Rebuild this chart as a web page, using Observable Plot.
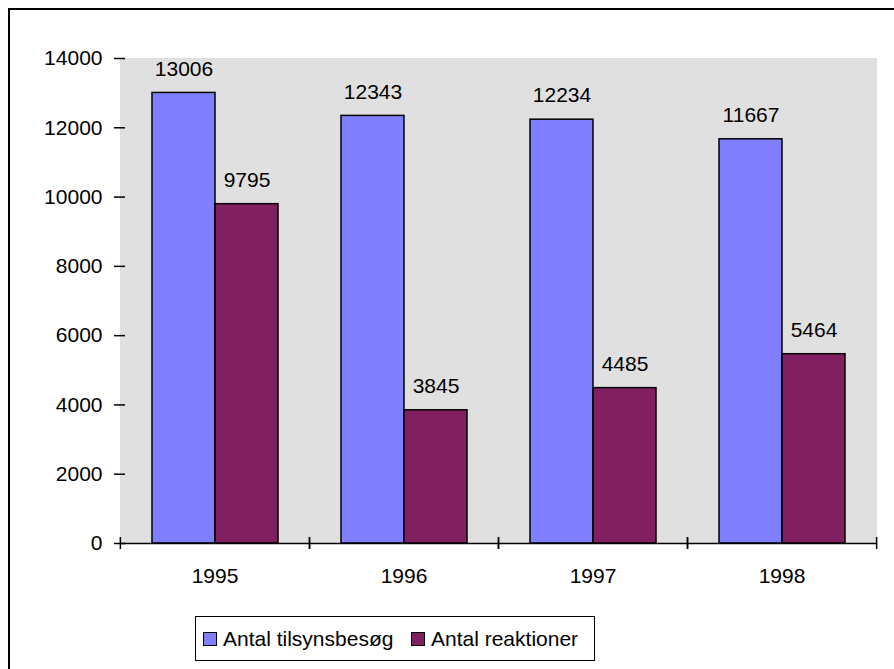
<!DOCTYPE html>
<html>
<head>
<meta charset="utf-8">
<script src="https://cdn.jsdelivr.net/npm/d3@7"></script>
<script src="https://cdn.jsdelivr.net/npm/@observablehq/plot@0.6"></script>
<style>
  html, body { margin: 0; padding: 0; background: #fff; overflow: hidden; width: 894px; height: 669px; }
  body { position: relative; font-family: "Liberation Sans", Arial, sans-serif; }
  #border { position: absolute; left: 8px; top: 8px; width: 1000px; height: 1000px; border: 2px solid #000; }
  #chart { position: absolute; left: 0; top: 0; }
  #legend { position: absolute; left: 195px; top: 616px; width: 398px; height: 43px; border: 1.5px solid #000; font-size: 21px; background: #fff; }
  .item { position: absolute; top: 0; height: 43px; display: flex; align-items: center; white-space: nowrap; }
  .sw { display: inline-block; width: 12px; height: 12px; border: 1.5px solid #000; margin-right: 6px; }
</style>
</head>
<body>
<div id="border"></div>
<div id="chart"></div>
<div id="legend"></div>
<script>
const years = ["1995", "1996", "1997", "1998"];
const seriesNames = ["Antal tilsynsbesøg", "Antal reaktioner"];
const visits = [13006, 12343, 12234, 11667];
const reactions = [9795, 3845, 4485, 5464];
const yTicks = [0, 2000, 4000, 6000, 8000, 10000, 12000, 14000];
const colors = ["#8080ff", "#802060"];

const data = years.flatMap((yr, i) => [
  {year: yr, series: seriesNames[0], value: visits[i]},
  {year: yr, series: seriesNames[1], value: reactions[i]}
]);

const W = 894, ML = 119, MR = 18;
const bw = (W - ML - MR) / years.length;

const chart = Plot.plot({
  width: W,
  height: 600,
  marginLeft: ML,
  marginRight: MR,
  marginTop: 58,
  marginBottom: 57,
  style: {fontFamily: "'Liberation Sans', Arial, sans-serif", fontSize: "21px", background: "transparent", color: "#000", overflow: "visible"},
  fx: {domain: years, padding: 0, axis: null, label: null},
  x: {domain: seriesNames, paddingInner: 0, paddingOuter: 0.5, axis: null, label: null},
  y: {domain: [0, 14000], axis: null, label: null},
  color: {domain: seriesNames, range: colors},
  marks: [
    Plot.frame({fill: "#e0e0e0", stroke: "#e0e0e0"}),
    Plot.barY(data, {fx: "year", x: "series", y: "value", fill: "series", stroke: "#000", strokeWidth: 1.5}),
    Plot.text(data, {fx: "year", x: "series", y: "value", text: d => String(d.value), dy: -24, fill: "#000", fontSize: 21}),
    Plot.ruleY([0], {stroke: "#000", strokeWidth: 1.5}),
    Plot.axisY({ticks: yTicks, tickSize: 11, dx: 5, tickPadding: 12, tickFormat: d => String(d), strokeWidth: 1.5, fontSize: 21, line: true, label: null}),
    Plot.axisFx({anchor: "bottom", tickSize: 0, tickPadding: 25, fontSize: 21, label: null}),
    Plot.axisFx({anchor: "bottom", tickSize: 12, dy: -6, dx: -bw / 2, tickFormat: () => "", strokeWidth: 1.5, label: null}),
    Plot.axisFx({anchor: "bottom", tickSize: 12, dy: -6, dx: bw / 2, tickFormat: () => "", strokeWidth: 1.5, label: null})
  ]
});
document.getElementById("chart").appendChild(chart);

const legend = document.getElementById("legend");
const lefts = [7, 215];
seriesNames.forEach((name, i) => {
  const item = document.createElement("div");
  item.className = "item";
  item.style.left = lefts[i] + "px";
  const sw = document.createElement("span");
  sw.className = "sw";
  sw.style.background = colors[i];
  item.appendChild(sw);
  const t = document.createElement("span");
  t.textContent = name;
  item.appendChild(t);
  legend.appendChild(item);
});
</script>
</body>
</html>
